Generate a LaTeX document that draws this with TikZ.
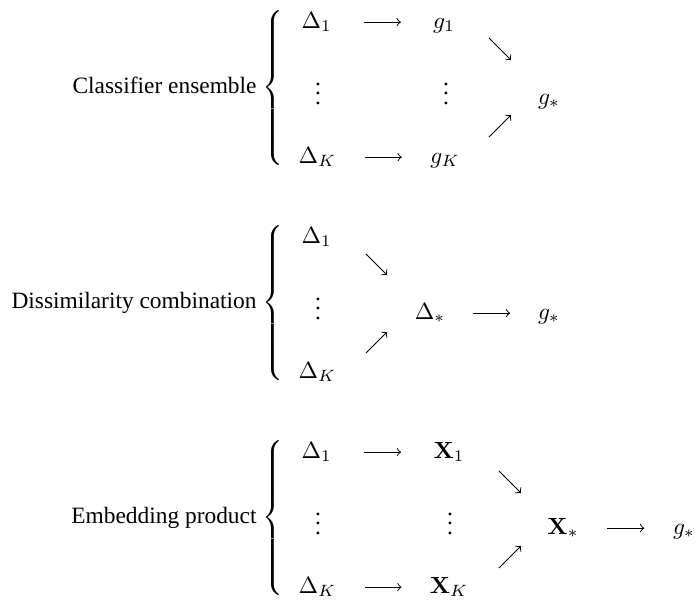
\documentclass[tikz,border=0pt]{standalone}
\usepackage[no-math]{fontspec}
\setmainfont{Liberation Serif}
\usetikzlibrary{calc}
\newcommand\mybrace{$\left\{\vcenter{\hbox{\rule{0pt}{68pt}}}\right.$}
\newcommand\harr[2]{\draw[arr] ($(#1.east)!.5!(#2.west)$) +(-18.5,0) -- +(18.5,0);}
\begin{document}
\begin{tikzpicture}[x=0.42735pt, y=-0.42735pt,
  m/.style={inner sep=0pt, anchor=base, text height=7pt, text depth=2pt},
  vd/.style={inner sep=0pt, anchor=base},
  lab/.style={inner sep=0pt, anchor=base east},
  br/.style={inner sep=0pt, anchor=west},
  arr/.style={->, line width=0.4pt}]
\useasboundingbox (0,0) rectangle (696,602);
% ---- panel 1
\node[lab] (L1) at (257,93) {Classifier ensemble};
\node[br] (B1) at (262,88) {\mybrace};
\node[m] (a1) at (316.5,28) {$\Delta_1$};
\node[m] (b1) at (444,28) {$g_1$};
\node[vd] (av1) at (318,104) {$\vdots$};
\node[vd] (bv1) at (446,104) {$\vdots$};
\node[m] (aK1) at (317.5,163) {$\Delta_K$};
\node[m] (bK1) at (445,163) {$g_K$};
\node[m] (c1) at (549,104) {$g_*$};
\harr{a1}{b1}
\harr{aK1}{bK1}
\draw[arr] (b1.base) ++(45,10) -- ++(22,22);
\draw[arr] (bK1.base) ++(44,-26) -- ++(22,-22);
% ---- panel 2
\node[lab] (L2) at (257,308) {Dissimilarity combination};
\node[br] (B2) at (262,303) {\mybrace};
\node[m] (a2) at (316.5,243) {$\Delta_1$};
\node[vd] (av2) at (318,319) {$\vdots$};
\node[m] (aK2) at (317.5,378) {$\Delta_K$};
\node[m] (c2) at (430,319) {$\Delta_*$};
\node[m] (d2) at (549,319) {$g_*$};
\draw[arr] (a2.base) ++(49.5,11) -- ++(21,21);
\draw[arr] (aK2.base) ++(48.5,-25) -- ++(21,-21);
\harr{c2}{d2}
% ---- panel 3
\node[lab] (L3) at (257,523) {Embedding product};
\node[br] (B3) at (262,518) {\mybrace};
\node[m] (a3) at (316.5,458) {$\Delta_1$};
\node[m] (b3) at (449,458) {$\mathbf{X}_1$};
\node[vd] (av3) at (318,534) {$\vdots$};
\node[vd] (bv3) at (450,534) {$\vdots$};
\node[m] (aK3) at (317.5,593) {$\Delta_K$};
\node[m] (bK3) at (449,593) {$\mathbf{X}_K$};
\node[m] (c3) at (563,534) {$\mathbf{X}_*$};
\node[m] (d3) at (684,534) {$g_*$};
\harr{a3}{b3}
\harr{aK3}{bK3}
\harr{c3}{d3}
\draw[arr] (b3.base) ++(50,13) -- ++(22,22);
\draw[arr] (bK3.base) ++(50,-25) -- ++(22,-22);
\end{tikzpicture}
\end{document}
